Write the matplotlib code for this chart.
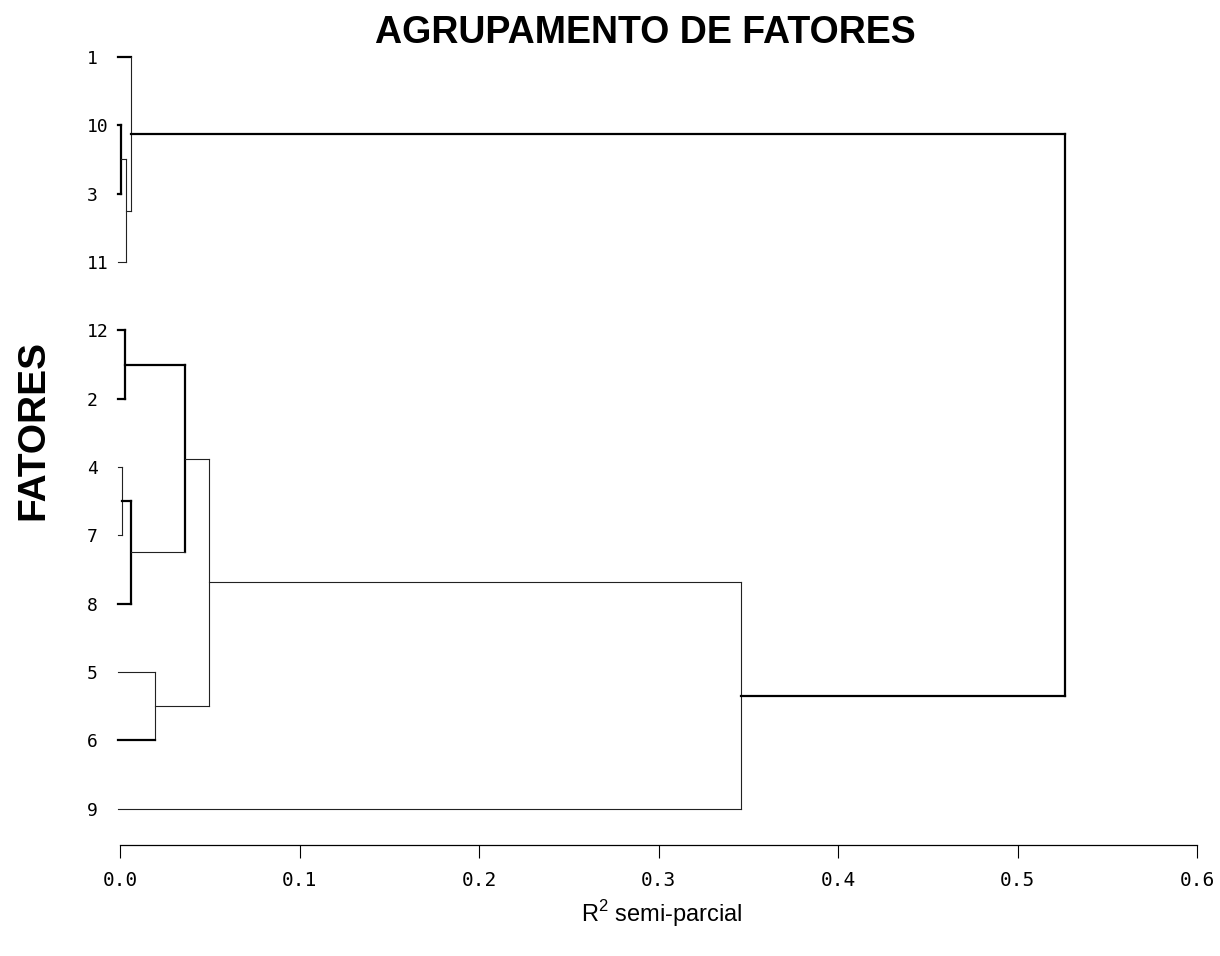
import matplotlib
matplotlib.use("Agg")
import matplotlib.pyplot as plt

plt.rcParams['mathtext.fontset'] = 'custom'
plt.rcParams['mathtext.rm'] = 'Liberation Sans'

# leaf order top -> bottom
leaves = ["1", "10", "3", "11", "12", "2", "4", "7", "8", "5", "6", "9"]

# merges: node name, upper child, lower child, R2 semi-parcial at the join
merge_names = ["A", "B", "C", "D", "E", "F", "G", "H", "I", "J", "K"]
merge_upper = ["10", "A", "1", "12", "4", "E", "D", "5", "G", "I", "C"]
merge_lower = ["3", "11", "B", "2", "7", "8", "F", "6", "H", "9", "J"]
merge_r2 = [0.0006, 0.0033, 0.0064, 0.0028, 0.0011, 0.0061,
            0.0362, 0.0195, 0.0496, 0.346, 0.5265]

xticks = [0.0, 0.1, 0.2, 0.3, 0.4, 0.5, 0.6]

# line style per merge: (upper arm, vertical, lower arm) -> thick?
TK, TN = 1.6, 0.8
merge_lw = [(TK, TK, TK), (TN, TN, TN), (TK, TN, TN), (TK, TK, TK),
            (TN, TN, TN), (TK, TK, TK), (TK, TK, TN), (TN, TN, TK),
            (TN, TN, TN), (TN, TN, TN), (TK, TK, TK)]
LEAF_X = -0.0012


def draw_dendrogram(ax):
    ypos = {name: i for i, name in enumerate(leaves)}
    xpos = {name: LEAF_X for name in leaves}
    for name, up, lo, h, lw in zip(merge_names, merge_upper, merge_lower,
                                   merge_r2, merge_lw):
        y1, y2 = ypos[up], ypos[lo]
        kw = dict(clip_on=False, solid_capstyle='projecting')
        ax.plot([xpos[up], h], [y1, y1], color='k' if lw[0] == TK else '#222222', lw=lw[0], **kw)
        ax.plot([h, h], [y1, y2], color='k' if lw[1] == TK else '#222222', lw=lw[1], **kw)
        ax.plot([xpos[lo], h], [y2, y2], color='k' if lw[2] == TK else '#222222', lw=lw[2], **kw)
        ypos[name] = (y1 + y2) / 2.0
        xpos[name] = h


fig = plt.figure(figsize=(12.2, 9.56), dpi=100)
ax = fig.add_axes([120 / 1220, 111 / 956, 1077 / 1220, 822.2 / 956])
draw_dendrogram(ax)

ax.set_xlim(0, 0.6)
ax.set_ylim(11.53, -0.5)

for s in ['top', 'right', 'left']:
    ax.spines[s].set_visible(False)
ax.spines['bottom'].set_linewidth(0.9)

ax.set_xticks(xticks)
ax.set_xticklabels([f"{t:.1f}" for t in xticks], fontfamily='DejaVu Sans Mono', fontsize=14)
ax.tick_params(axis='x', length=9.5, width=0.8, pad=9, direction='out')

ax.set_yticks(range(len(leaves)))
ax.set_yticklabels(leaves, fontfamily='DejaVu Sans Mono', fontsize=13)
ax.tick_params(axis='y', length=0, pad=24)
for lab in ax.get_yticklabels():
    lab.set_horizontalalignment('left')

fig.text(645 / 1220, 1 - 33 / 956, "AGRUPAMENTO DE FATORES", ha='center', va='center',
         fontsize=27, fontweight='bold', fontfamily='Liberation Sans')
fig.text(33 / 1220, 1 - 430 / 956, "FATORES", ha='center', va='center', rotation=90,
         fontsize=28, fontweight='bold', fontfamily='Liberation Sans')
fig.text(662 / 1220, 1 - 914 / 956, r"R$^{\mathregular{2}}$ semi-parcial", ha='center', va='center',
         fontsize=17, fontfamily='Liberation Sans')

fig.savefig("out.png", dpi=100, facecolor='white')
